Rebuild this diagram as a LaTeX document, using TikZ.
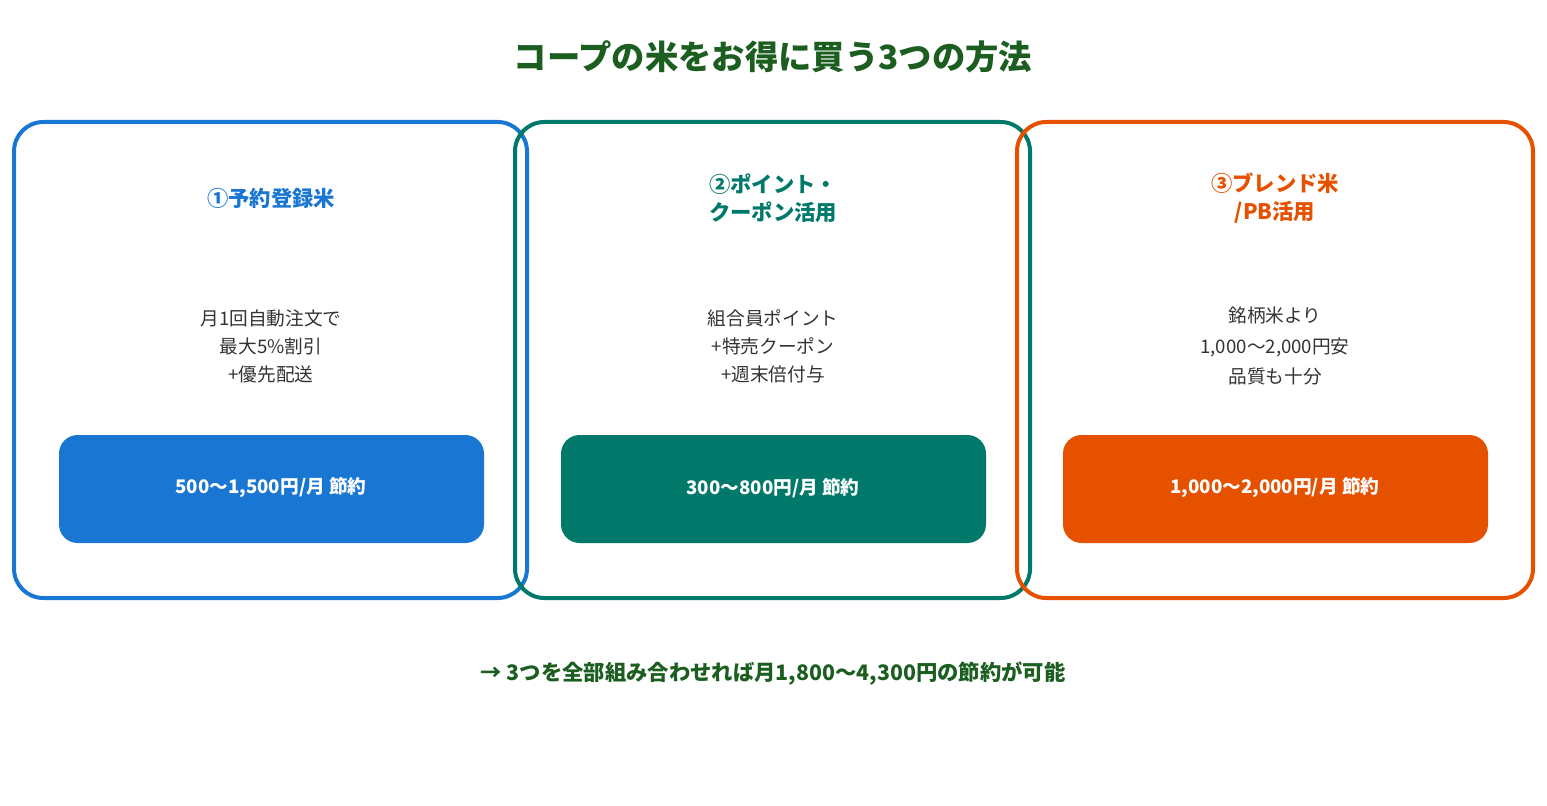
\documentclass[tikz,border=0pt]{standalone}
\usepackage{fontspec}
\setmainfont{Noto Sans CJK JP}
\usepackage{tikz}
\definecolor{cblue}{HTML}{1976D2}
\definecolor{cteal}{HTML}{00796B}
\definecolor{corange}{HTML}{E65100}
\definecolor{cgreen}{HTML}{1B5E20}
\definecolor{ctext}{HTML}{333333}
\tikzset{
  card/.style = {line width = 3pt, rounded corners = 22pt},
  tag/.style = {rounded corners = 14pt},
  head/.style = {font = \fontsize{16}{21}\selectfont\bfseries, align = center},
  body/.style = {font = \fontsize{14}{21}\selectfont, text = ctext, align = center},
  btn/.style = {font = \fontsize{14}{17}\selectfont\bfseries, text = white}
}
\begin{document}
\begin{tikzpicture}[x = 0.75pt, y = -0.75pt]
            \useasboundingbox (0,0) rectangle (1547,806);

            \node [font = \fontsize{25}{30}\selectfont\bfseries, text = cgreen] (title) at (773, 57) {コープの米をお得に買う3つの方法};

            % cards
            \draw [card, cblue] (14,122) rectangle (527,598);
            \draw [card, cteal] (515,122) rectangle (1030,598);
            \draw [card, corange] (1017,122) rectangle (1533,598);

            \node [head, text = cblue] (h1) at (271, 198) {①予約登録米};
            \node [head, text = cteal] (h2) at (773, 198) {②ポイント・\\クーポン活用};
            \node [head, text = corange] (h3) at (1275, 198) {③ブレンド米\\/PB活用};

            \node [body] (b1) at (271, 346) {月1回自動注文で\\最大5\%割引\\+優先配送};
            \node [body] (b2) at (773, 346) {組合員ポイント\\+特売クーポン\\+週末倍付与};
            \node [body, font = \fontsize{14}{23}\selectfont] (b3) at (1275, 346) {銘柄米より\\1,000〜2,000円安\\品質も十分};

            \fill [tag, cblue] (59,435) rectangle (484,543);
            \fill [tag, cteal] (561,435) rectangle (986,543);
            \fill [tag, corange] (1063,435) rectangle (1488,543);

            \node [btn] (s1) at (271, 488) {500〜1,500円/月 節約};
            \node [btn] (s2) at (773, 488) {300〜800円/月 節約};
            \node [btn] (s3) at (1275, 488) {1,000〜2,000円/月 節約};

            \node [font = \fontsize{16}{20}\selectfont\bfseries, text = cgreen] (total) at (773, 674) {→ 3つを全部組み合わせれば月1,800〜4,300円の節約が可能};
\end{tikzpicture}
\end{document}
